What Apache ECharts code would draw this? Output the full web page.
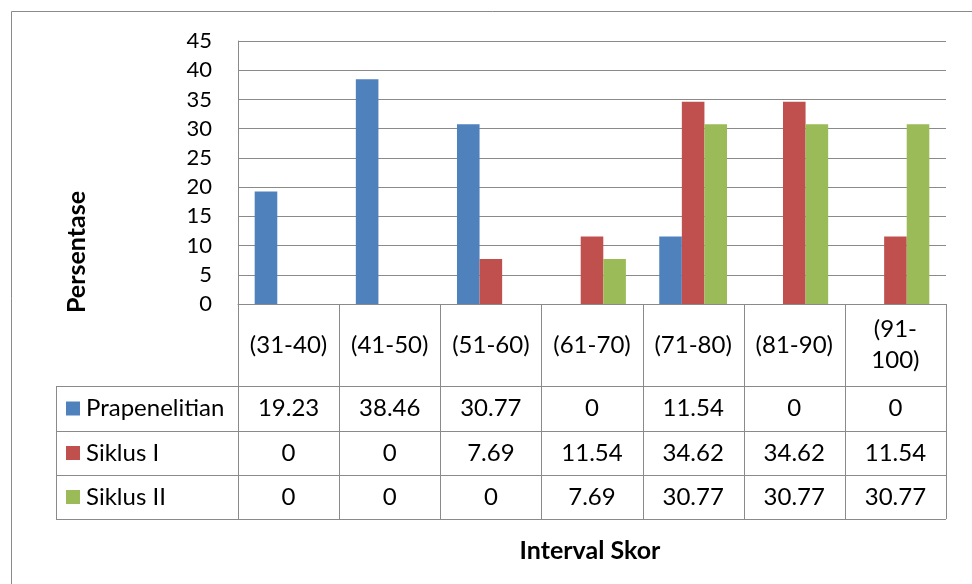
<!DOCTYPE html>
<html>
<head>
<meta charset="utf-8">
<title>Persentase per Interval Skor</title>
<script src="https://cdn.jsdelivr.net/npm/echarts@6/dist/echarts.min.js"></script>
<style>
  html, body { margin: 0; padding: 0; background: #fff; }
  #chart { width: 972px; height: 584px; }
</style>
</head>
<body>
<div id="chart"></div>
<script>
// Score intervals and percentage of students per cycle
const categories = ['(31-40)', '(41-50)', '(51-60)', '(61-70)', '(71-80)', '(81-90)', '(91-100)'];
const seriesNames = ['Prapenelitian', 'Siklus I', 'Siklus II'];
const prapenelitian = [19.23, 38.46, 30.77, 0, 11.54, 0, 0];
const siklusI = [0, 0, 7.69, 11.54, 34.62, 34.62, 11.54];
const siklusII = [0, 0, 0, 7.69, 30.77, 30.77, 30.77];
const yMin = 0, yMax = 45, yStep = 5;

const seriesValues = [prapenelitian, siklusI, siklusII];
const colors = ['#4F81BD', '#C0504D', '#9BBB59'];

// layout of plot area and the data table beneath it
const W = 972, H = 584;
const plotL = 238, plotR = 946, plotT = 41, plotB = 304;
const rowLines = [386, 431, 475, 519];     // bottoms of header + 3 data rows
const legendL = 56;
const lineCol = '#8a8a8a';
const font = 'Lato, "Liberation Sans", sans-serif';
const tableFont = 24;
const colW = (plotR - plotL) / categories.length;

const chart = echarts.init(document.getElementById('chart'), null, { renderer: 'canvas' });

// x axes: first one carries the header row, the others print the table rows
const xAxes = [{
  type: 'category',
  data: categories,
  position: 'bottom',
  axisLine: { show: true, lineStyle: { color: lineCol, width: 1 } },
  axisTick: { show: false },
  axisLabel: {
    interval: 0,
    margin: (plotB + rowLines[0]) / 2 - plotB,
    verticalAlign: 'middle',
    lineHeight: 31,
    fontFamily: font,
    fontSize: tableFont,
    color: '#000',
    formatter: v => (v.length > 7 ? v.replace('-', '-\n') : v)
  }
}];
seriesValues.forEach((vals, r) => {
  const top = rowLines[r], bottom = rowLines[r + 1];
  xAxes.push({
    type: 'category',
    data: categories,
    position: 'bottom',
    offset: 0,
    axisLine: { show: false },
    axisTick: { show: false },
    splitLine: { show: false },
    axisLabel: {
      interval: 0,
      margin: (top + bottom) / 2 - plotB,
      verticalAlign: 'middle',
      fontFamily: font,
      fontSize: tableFont,
      color: '#000',
      formatter: (v, i) => String(vals[i])
    }
  });
});

// table grid lines and legend keys
const graphics = [];
const line = (x1, y1, x2, y2) => graphics.push({
  type: 'line', silent: true,
  shape: { x1, y1, x2, y2 },
  style: { stroke: lineCol, lineWidth: 1 }
});
for (let i = 0; i <= categories.length; i++) {
  const x = Math.round(plotL + i * colW) + 0.5;
  line(x, plotB, x, rowLines[3]);
}
rowLines.forEach(y => line(legendL, y + 0.5, plotR, y + 0.5));
line(legendL + 0.5, rowLines[0], legendL + 0.5, rowLines[3]);

seriesNames.forEach((name, r) => {
  const cy = (rowLines[r] + rowLines[r + 1]) / 2;
  graphics.push({
    type: 'rect', silent: true,
    shape: { x: 66, y: cy - 7, width: 14, height: 14 },
    style: { fill: colors[r] }
  });
  graphics.push({
    type: 'text', silent: true,
    x: 86, y: cy,
    style: { text: name, fontFamily: font, fontSize: tableFont, fill: '#000', verticalAlign: 'middle', align: 'left' }
  });
});

// axis titles
graphics.push({
  type: 'text', silent: true,
  x: 77, y: 252, rotation: Math.PI / 2,
  style: { text: 'Persentase', fontFamily: font, fontWeight: 'bold', fontSize: 25, fill: '#000', align: 'center', verticalAlign: 'middle' }
});
graphics.push({
  type: 'text', silent: true,
  x: 590, y: 551,
  style: { text: 'Interval Skor', fontFamily: font, fontWeight: 'bold', fontSize: 25, fill: '#000', align: 'center', verticalAlign: 'middle' }
});

// chart area frame
graphics.push({
  type: 'rect', silent: true,
  shape: { x: 11.5, y: 11.5, width: 1000, height: 700 },
  style: { fill: null, stroke: lineCol, lineWidth: 1 }
});

chart.setOption({
  animation: false,
  backgroundColor: '#fff',
  grid: { left: plotL, right: W - plotR, top: plotT, bottom: H - plotB, containLabel: false },
  xAxis: xAxes,
  yAxis: {
    type: 'value',
    min: yMin, max: yMax, interval: yStep,
    axisLine: { show: true, lineStyle: { color: lineCol, width: 1 } },
    axisTick: { show: false },
    splitLine: { show: true, lineStyle: { color: lineCol, width: 1 } },
    axisLabel: { margin: 26, fontFamily: font, fontSize: 22, color: '#000' }
  },
  series: seriesNames.map((name, r) => ({
    name,
    type: 'bar',
    xAxisIndex: 0,
    data: seriesValues[r],
    barGap: '0%',
    barCategoryGap: '33%',
    itemStyle: { color: colors[r] }
  })),
  graphic: graphics
});
</script>
</body>
</html>
